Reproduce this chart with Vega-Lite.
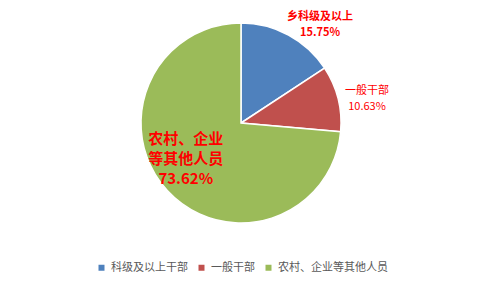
{
  "$schema": "https://vega.github.io/schema/vega-lite/v6.json",
  "width": 482,
  "height": 290,
  "autosize": {"type": "fit", "contains": "padding"},
  "padding": 0,
  "background": "white",
  "config": {
    "view": {"stroke": "#d9d9d9", "strokeWidth": 1},
    "font": "Noto Sans CJK SC"
  },
  "data": {
    "values": [
      {"cat": "科级及以上干部", "label": "乡科级及以上\n15.75%", "pct": 15.75, "order": 1},
      {"cat": "一般干部", "label": "一般干部\n10.63%", "pct": 10.63, "order": 2},
      {"cat": "农村、企业等其他人员", "label": "农村、企业\n等其他人员\n73.62%", "pct": 73.62, "order": 3}
    ]
  },
  "encoding": {
    "theta": {"field": "pct", "type": "quantitative", "stack": true},
    "order": {"field": "order", "type": "quantitative"}
  },
  "layer": [
    {
      "mark": {"type": "arc", "outerRadius": 100, "stroke": "white", "strokeWidth": 1.5, "yOffset": -22},
      "encoding": {
        "color": {
          "field": "cat",
          "type": "nominal",
          "scale": {
            "domain": ["科级及以上干部", "一般干部", "农村、企业等其他人员"],
            "range": ["#4F81BD", "#C0504D", "#9BBB59"]
          },
          "legend": {
            "orient": "none",
            "legendX": 96,
            "legendY": 262,
            "direction": "horizontal",
            "title": null,
            "symbolType": "square",
            "symbolSize": 36,
            "symbolStrokeWidth": 0,
            "labelFontSize": 11,
            "labelColor": "#595959",
            "columnPadding": 8,
            "labelOffset": 4
          }
        }
      }
    },
    {
      "mark": {"type": "text", "radius": 120, "dx": 22, "yOffset": -22, "lineBreak": "\n", "fontSize": 11, "fontWeight": "bold", "color": "#FF0000", "align": "center", "baseline": "middle", "lineHeight": 16},
      "encoding": {"text": {"condition": {"test": "datum.order == 1", "field": "label"}, "value": ""}}
    },
    {
      "mark": {"type": "text", "radius": 130, "yOffset": -22, "lineBreak": "\n", "fontSize": 11, "color": "#FF0000", "align": "center", "baseline": "middle", "lineHeight": 16},
      "encoding": {"text": {"condition": {"test": "datum.order == 2", "field": "label"}, "value": ""}}
    },
    {
      "mark": {"type": "text", "radius": 60, "dx": -11, "dy": -25, "yOffset": -22, "lineBreak": "\n", "fontSize": 15, "fontWeight": "bold", "color": "#FF0000", "align": "center", "baseline": "middle", "lineHeight": 20},
      "encoding": {"text": {"condition": {"test": "datum.order == 3", "field": "label"}, "value": ""}}
    }
  ]
}
